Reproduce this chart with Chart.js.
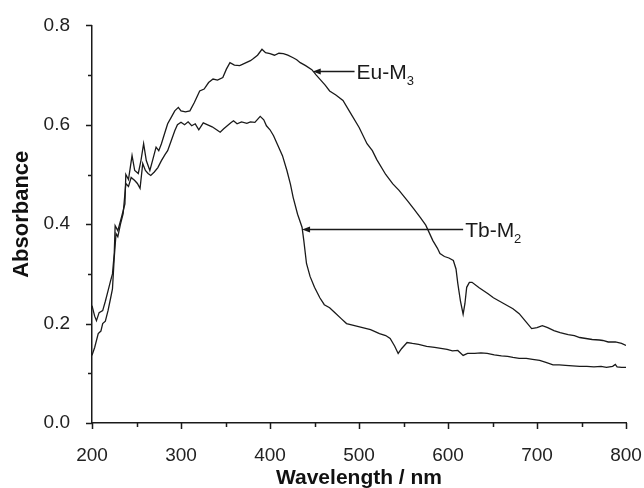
<!DOCTYPE html>
<html>
<head>
<meta charset="utf-8">
<script src="https://cdn.jsdelivr.net/npm/chart.js@4.4.1/dist/chart.umd.min.js"></script>
<style>
  html, body { margin: 0; padding: 0; background: #fff; }
  #wrap { width: 644px; height: 488px; }
</style>
</head>
<body>
<div id="wrap"><canvas id="chart" width="644" height="488"></canvas></div>
<script>
// wavelength (nm) / absorbance
const euWavelength = [200,203,205,208,212,215,218,221,223,225,226,229,233,237,238,241,243,245,248,252,255,258,261,265,268,272,275,278,282,285,289,293,297,300,305,310,315,321,326,331,336,341,347,351,355,360,366,372,378,381,386,391,395,400,405,410,415,420,426,430,434,440,447,452,456,462,467,474,482,490,500,509,515,520,530,538,545,555,562,569,575,583,588,591,596,601,606,609,611,614,617,619,621,624,627,635,645,651,660,667,673,680,687,694,700,706,712,719,726,735,742,748,755,762,770,774,780,788,795,800];
const euAbsorbance = [0.236,0.215,0.206,0.222,0.226,0.245,0.266,0.287,0.300,0.341,0.397,0.387,0.413,0.441,0.500,0.490,0.514,0.538,0.508,0.502,0.528,0.562,0.528,0.508,0.528,0.555,0.548,0.562,0.585,0.602,0.615,0.628,0.635,0.628,0.626,0.628,0.645,0.668,0.672,0.685,0.692,0.690,0.695,0.712,0.725,0.720,0.719,0.724,0.729,0.733,0.740,0.752,0.745,0.743,0.740,0.744,0.743,0.740,0.735,0.731,0.725,0.719,0.711,0.700,0.692,0.680,0.668,0.660,0.649,0.625,0.595,0.562,0.548,0.530,0.500,0.481,0.468,0.446,0.430,0.413,0.398,0.367,0.352,0.341,0.335,0.332,0.327,0.310,0.281,0.245,0.219,0.240,0.273,0.283,0.283,0.272,0.260,0.252,0.243,0.236,0.230,0.220,0.205,0.190,0.192,0.196,0.192,0.186,0.182,0.178,0.176,0.172,0.170,0.168,0.167,0.166,0.163,0.163,0.160,0.156];

const tbWavelength = [200,203,207,210,212,215,218,221,223,225,227,229,232,235,238,241,244,248,251,254,257,260,263,266,270,274,278,282,285,289,293,296,300,304,308,312,316,320,325,330,335,340,344,348,352,356,359,363,368,374,378,383,389,393,396,400,404,408,414,419,423,426,431,436,438,441,445,450,456,461,467,473,480,486,495,504,513,523,530,535,540,544,548,554,560,567,576,585,592,599,605,611,617,622,630,637,644,652,660,667,673,680,688,695,703,710,718,725,732,740,748,756,764,772,778,785,788,790,795,800];
const tbAbsorbance = [0.136,0.152,0.180,0.185,0.200,0.205,0.226,0.252,0.270,0.333,0.381,0.375,0.400,0.421,0.482,0.476,0.494,0.488,0.482,0.472,0.522,0.508,0.502,0.498,0.505,0.514,0.528,0.540,0.548,0.568,0.588,0.600,0.605,0.600,0.606,0.598,0.602,0.590,0.604,0.600,0.596,0.590,0.585,0.592,0.598,0.604,0.608,0.602,0.606,0.603,0.606,0.605,0.617,0.610,0.598,0.590,0.578,0.562,0.538,0.508,0.480,0.454,0.420,0.394,0.367,0.321,0.295,0.273,0.252,0.238,0.232,0.222,0.210,0.200,0.196,0.192,0.188,0.180,0.176,0.170,0.155,0.140,0.150,0.162,0.160,0.158,0.154,0.152,0.150,0.148,0.145,0.146,0.136,0.140,0.140,0.141,0.140,0.137,0.135,0.134,0.132,0.130,0.130,0.128,0.126,0.122,0.117,0.117,0.116,0.115,0.114,0.114,0.113,0.114,0.112,0.114,0.118,0.113,0.112,0.112];

const xTicks = [200, 300, 400, 500, 600, 700, 800];
const yTicks = [0.0, 0.2, 0.4, 0.6, 0.8];

// arrow labels: tip of arrow (on the curve), end of arrow line, label text
const labels = [
  { name: 'Eu-M', sub: '3', tipX: 448, tipY: 0.709, endX: 495 },
  { name: 'Tb-M', sub: '2', tipX: 436, tipY: 0.391, endX: 617 }
];

const ink = '#1a1a1a';
const fontFamily = '"Liberation Sans", Arial, sans-serif';

function points(xs, ys) {
  return xs.map((x, i) => ({ x: x, y: ys[i] }));
}

// outward major/minor tick marks like the original plot
const tickMarks = {
  id: 'tickMarks',
  afterDraw(chart) {
    const ctx = chart.ctx;
    const xs = chart.scales.x, ys = chart.scales.y;
    ctx.save();
    ctx.strokeStyle = ink;
    ctx.lineWidth = 1.5;
    ctx.beginPath();
    for (let v = 200; v <= 800; v += 50) {
      const px = Math.round(xs.getPixelForValue(v)) + 0.5;
      const len = xTicks.includes(v) ? 6 : 4;
      ctx.moveTo(px, ys.bottom);
      ctx.lineTo(px, ys.bottom + len);
    }
    for (let i = 0; i <= 8; i++) {
      const py = Math.round(ys.getPixelForValue(i / 10)) + 0.5;
      const len = i % 2 === 0 ? 6 : 4;
      ctx.moveTo(xs.left, py);
      ctx.lineTo(xs.left - len, py);
    }
    ctx.stroke();

    // y axis title sits a little above the middle of the axis in the original
    ctx.translate(22, ys.getPixelForValue(0.42));
    ctx.rotate(-Math.PI / 2);
    ctx.fillStyle = '#111';
    ctx.font = 'bold 22px ' + fontFamily;
    ctx.textAlign = 'center';
    ctx.textBaseline = 'middle';
    ctx.fillText('Absorbance', 0, 0);
    ctx.restore();
  }
};

const arrowLabels = {
  id: 'arrowLabels',
  afterDatasetsDraw(chart) {
    const ctx = chart.ctx;
    const xs = chart.scales.x, ys = chart.scales.y;
    ctx.save();
    ctx.strokeStyle = ink;
    ctx.fillStyle = ink;
    ctx.lineWidth = 1.3;
    labels.forEach(l => {
      const tx = xs.getPixelForValue(l.tipX);
      const ty = Math.round(ys.getPixelForValue(l.tipY)) + 0.5;
      const ex = xs.getPixelForValue(l.endX);
      ctx.beginPath();
      ctx.moveTo(tx + 6, ty);
      ctx.lineTo(ex, ty);
      ctx.stroke();
      ctx.beginPath();
      ctx.moveTo(tx, ty);
      ctx.lineTo(tx + 8, ty - 3);
      ctx.lineTo(tx + 8, ty + 3);
      ctx.closePath();
      ctx.fill();
      ctx.font = '21px ' + fontFamily;
      ctx.textBaseline = 'alphabetic';
      ctx.textAlign = 'left';
      const base = ty + 7;
      ctx.fillText(l.name, ex + 2, base);
      const w = ctx.measureText(l.name).width;
      ctx.font = '13px ' + fontFamily;
      ctx.fillText(l.sub, ex + 2 + w, base + 6);
    });
    ctx.restore();
  }
};

const lineStyle = {
  borderColor: ink,
  borderWidth: 1.3,
  pointRadius: 0,
  fill: false,
  tension: 0
};

new Chart(document.getElementById('chart'), {
  type: 'line',
  data: {
    datasets: [
      Object.assign({ label: 'Eu-M3', data: points(euWavelength, euAbsorbance) }, lineStyle),
      Object.assign({ label: 'Tb-M2', data: points(tbWavelength, tbAbsorbance) }, lineStyle)
    ]
  },
  options: {
    responsive: false,
    animation: false,
    layout: { padding: { top: 24, right: 0, left: 0, bottom: 0 } },
    plugins: {
      legend: { display: false },
      tooltip: { enabled: false }
    },
    scales: {
      x: {
        type: 'linear',
        min: 200,
        max: 800,
        afterFit(scale) {
          scale.height = 65;
          scale.paddingLeft = 0;
          scale.paddingRight = 18;
        },
        afterBuildTicks(scale) { scale.ticks = xTicks.map(v => ({ value: v })); },
        grid: { display: false },
        border: { display: true, color: ink, width: 1.5 },
        ticks: {
          color: '#222',
          padding: 13,
          maxRotation: 0,
          font: { family: fontFamily, size: 19 }
        },
        title: {
          display: true,
          text: 'Wavelength / nm',
          color: '#111',
          font: { family: fontFamily, size: 21, weight: 'bold', lineHeight: 1 },
          padding: { top: 0, bottom: -1 }
        }
      },
      y: {
        min: 0,
        max: 0.8,
        afterFit(scale) { scale.width = 92; },
        afterBuildTicks(scale) { scale.ticks = yTicks.map(v => ({ value: v })); },
        grid: { display: false },
        border: { display: true, color: ink, width: 1.5 },
        ticks: {
          color: '#222',
          padding: 14,
          callback: v => v.toFixed(1),
          font: { family: fontFamily, size: 19 }
        },
        title: { display: false }
      }
    }
  },
  plugins: [tickMarks, arrowLabels]
});
</script>
</body>
</html>
